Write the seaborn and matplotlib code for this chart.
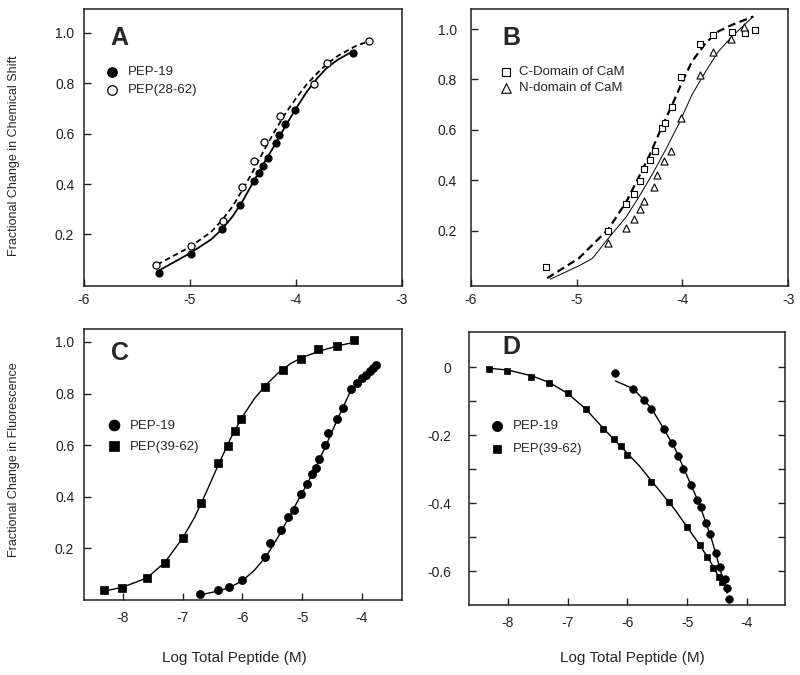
import matplotlib
matplotlib.use("Agg")
import matplotlib.pyplot as plt
import seaborn as sns

sns.set_style("white")
plt.rcParams['font.family'] = ['Liberation Sans', 'DejaVu Sans']
plt.rcParams['axes.unicode_minus'] = False

# --- A: chemical shift titration ---
a_pep19_x = [-5.29, -4.99, -4.70, -4.53, -4.40, -4.35, -4.31, -4.26, -4.19, -4.16, -4.10, -4.01, -3.46]
a_pep19_y = [0.047, 0.124, 0.221, 0.317, 0.412, 0.443, 0.473, 0.505, 0.562, 0.596, 0.638, 0.695, 0.920]
a_pep28_x = [-5.32, -4.99, -4.69, -4.51, -4.40, -4.30, -4.15, -3.83, -3.71, -3.31]
a_pep28_y = [0.077, 0.155, 0.252, 0.388, 0.490, 0.568, 0.671, 0.798, 0.882, 0.969]
a_fit19_x = [-5.30, -5.0, -4.8, -4.7, -4.6, -4.5, -4.4, -4.3, -4.2, -4.1, -4.0, -3.9, -3.8, -3.7, -3.6, -3.45]
a_fit19_y = [0.055, 0.125, 0.18, 0.22, 0.27, 0.335, 0.41, 0.485, 0.555, 0.63, 0.70, 0.765, 0.82, 0.865, 0.895, 0.93]
a_fit28_x = [-5.31, -5.0, -4.8, -4.7, -4.6, -4.5, -4.4, -4.3, -4.2, -4.1, -4.0, -3.9, -3.8, -3.7, -3.6, -3.45, -3.30]
a_fit28_y = [0.08, 0.15, 0.21, 0.255, 0.31, 0.38, 0.455, 0.535, 0.61, 0.68, 0.74, 0.795, 0.84, 0.88, 0.91, 0.945, 0.97]

# --- B: C- and N-domain of CaM ---
b_cdom_x = [-5.29, -4.70, -4.53, -4.46, -4.40, -4.36, -4.31, -4.26, -4.19, -4.16, -4.10, -4.01, -3.83, -3.71, -3.53, -3.41, -3.31]
b_cdom_y = [0.057, 0.200, 0.306, 0.346, 0.397, 0.444, 0.481, 0.518, 0.607, 0.627, 0.690, 0.809, 0.941, 0.976, 0.988, 0.985, 0.997]
b_ndom_x = [-4.70, -4.53, -4.46, -4.40, -4.36, -4.27, -4.24, -4.17, -4.11, -4.01, -3.83, -3.71, -3.54, -3.42]
b_ndom_y = [0.150, 0.212, 0.246, 0.287, 0.318, 0.375, 0.419, 0.478, 0.518, 0.647, 0.816, 0.909, 0.962, 1.007]
b_fitc_x = [-5.28, -4.98, -4.70, -4.53, -4.41, -4.31, -4.22, -4.09, -4.00, -3.91, -3.78, -3.66, -3.53, -3.33]
b_fitc_y = [0.011, 0.09, 0.206, 0.315, 0.415, 0.50, 0.587, 0.706, 0.792, 0.871, 0.945, 0.991, 1.017, 1.05]
b_fitn_x = [-5.25, -4.98, -4.85, -4.70, -4.53, -4.41, -4.28, -4.16, -4.03, -3.91, -3.78, -3.66, -3.53, -3.33]
b_fitn_y = [0.007, 0.06, 0.09, 0.17, 0.255, 0.335, 0.427, 0.52, 0.627, 0.739, 0.832, 0.911, 0.971, 1.05]

# --- C: fluorescence ---
c_pep19_x = [-6.71, -6.40, -6.23, -6.00, -5.62, -5.53, -5.36, -5.24, -5.13, -5.02, -4.92, -4.84, -4.77,
             -4.72, -4.62, -4.56, -4.42, -4.32, -4.18, -4.08, -4.00, -3.93, -3.87, -3.81, -3.76]
c_pep19_y = [0.023, 0.040, 0.052, 0.079, 0.166, 0.219, 0.272, 0.320, 0.348, 0.409, 0.451, 0.487, 0.512,
             0.545, 0.602, 0.646, 0.700, 0.744, 0.819, 0.842, 0.859, 0.873, 0.886, 0.899, 0.909]
c_pep39_x = [-8.31, -8.01, -7.60, -7.29, -7.00, -6.69, -6.40, -6.24, -6.12, -6.02, -5.62, -5.32, -5.02, -4.73, -4.42, -4.13]
c_pep39_y = [0.040, 0.045, 0.086, 0.143, 0.240, 0.375, 0.529, 0.597, 0.656, 0.703, 0.827, 0.891, 0.933, 0.972, 0.984, 1.006]
c_fit39_x = [-8.3, -8.0, -7.6, -7.3, -7.0, -6.8, -6.6, -6.4, -6.2, -6.0, -5.8, -5.6, -5.4, -5.2, -5.0, -4.7, -4.4, -4.1]
c_fit39_y = [0.035, 0.05, 0.085, 0.145, 0.24, 0.32, 0.42, 0.525, 0.625, 0.71, 0.78, 0.835, 0.88, 0.915, 0.94, 0.965, 0.985, 1.0]
c_fit19_x = [-6.7, -6.4, -6.2, -6.0, -5.8, -5.6, -5.4, -5.2, -5.0, -4.8, -4.6, -4.4, -4.2, -4.0, -3.8, -3.75]
c_fit19_y = [0.02, 0.035, 0.05, 0.075, 0.115, 0.17, 0.245, 0.33, 0.415, 0.50, 0.60, 0.705, 0.805, 0.86, 0.90, 0.91]

# --- D: fluorescence (second probe) ---
d_pep19_x = [-6.20, -5.90, -5.72, -5.61, -5.38, -5.26, -5.15, -5.06, -4.93, -4.83, -4.76, -4.69, -4.62,
             -4.52, -4.45, -4.37, -4.33, -4.29]
d_pep19_y = [-0.018, -0.063, -0.097, -0.124, -0.183, -0.222, -0.260, -0.298, -0.347, -0.391, -0.412, -0.457, -0.491,
             -0.548, -0.589, -0.623, -0.650, -0.682]
d_pep39_x = [-8.31, -8.01, -7.62, -7.31, -7.00, -6.70, -6.41, -6.23, -6.11, -6.01, -5.60, -5.31, -5.00, -4.79,
             -4.66, -4.56, -4.47, -4.41]
d_pep39_y = [-0.005, -0.010, -0.028, -0.045, -0.076, -0.124, -0.181, -0.212, -0.233, -0.258, -0.339, -0.397, -0.470, -0.524,
             -0.559, -0.590, -0.618, -0.632]
d_fit39_x = [-8.3, -8.0, -7.6, -7.3, -7.0, -6.7, -6.4, -6.1, -5.8, -5.5, -5.2, -5.0, -4.8, -4.6, -4.4]
d_fit39_y = [-0.003, -0.008, -0.025, -0.045, -0.077, -0.122, -0.18, -0.235, -0.29, -0.355, -0.42, -0.47, -0.52, -0.575, -0.64]
d_fit19_x = [-6.2, -5.9, -5.6, -5.4, -5.2, -5.0, -4.8, -4.6, -4.5, -4.4, -4.33]
d_fit19_y = [-0.04, -0.063, -0.12, -0.178, -0.24, -0.32, -0.40, -0.50, -0.56, -0.625, -0.665]

top_xticks = [-6, -5, -4, -3]
bot_xticks = [-8, -7, -6, -5, -4]
shift_yticks = [0.2, 0.4, 0.6, 0.8, 1.0]
shift_ylabels = ["0.2", "0.4", "0.6", "0.8", "1.0"]
d_yticks = [0, -0.1, -0.2, -0.3, -0.4, -0.5, -0.6]
d_ylabels = ["0", "", "-0.2", "", "-0.4", "", "-0.6"]

fig = plt.figure(figsize=(8, 6.75), dpi=100)
axA = fig.add_axes([0.105, 0.5763, 0.3975, 0.4104])
axB = fig.add_axes([0.5888, 0.5763, 0.3963, 0.4104])
axC = fig.add_axes([0.105, 0.1111, 0.3975, 0.4015])
axD = fig.add_axes([0.5863, 0.1037, 0.395, 0.4049])


def style_axes(ax, xlim, ylim, xticks, yticks, ylabels, xpad, ypad, right=False):
    ax.set_xlim(xlim)
    ax.set_ylim(ylim)
    ax.set_xticks(xticks, labels=[f"{t:g}" for t in xticks])
    ax.set_yticks(yticks, labels=ylabels)
    ax.tick_params(direction='in', length=5, width=1, labelsize=10, colors='#222',
                   left=True, bottom=True, right=right)
    ax.tick_params(axis='x', pad=xpad)
    ax.tick_params(axis='y', pad=ypad)
    for s in ax.spines.values():
        s.set_linewidth(1.1)
        s.set_color('#222')
    ax.set_xlabel('')
    ax.set_ylabel('')


def add_legend(ax, x, y, spacing, textpad):
    ax.legend(loc='upper left', bbox_to_anchor=(x, y), frameon=False, fontsize=9.5,
              handlelength=1.0, handletextpad=textpad, labelspacing=spacing,
              borderpad=0, borderaxespad=0, markerscale=1.35)


# Panel A
sns.lineplot(x=a_fit19_x, y=a_fit19_y, ax=axA, color='black', lw=1.3, sort=False, estimator=None, legend=False)
sns.lineplot(x=a_fit28_x, y=a_fit28_y, ax=axA, color='black', lw=1.3, sort=False, estimator=None, legend=False,
             linestyle=(0, (3, 2)))
sns.scatterplot(x=a_pep19_x, y=a_pep19_y, ax=axA, marker='o', s=26, color='black', edgecolor='black',
                linewidth=0.8, label='PEP-19', zorder=3)
sns.scatterplot(x=a_pep28_x, y=a_pep28_y, ax=axA, marker='o', s=26, color='white', edgecolor='black',
                linewidth=0.9, label='PEP(28-62)', zorder=3)
style_axes(axA, (-6, -3), (-0.005, 1.095), top_xticks, shift_yticks, shift_ylabels, 5, 7)
add_legend(axA, 0.066, 0.794, 0.45, 0.75)
axA.text(0.084, 0.937, 'A', transform=axA.transAxes, fontsize=18, fontweight='bold', va='top', ha='left')

# Panel B
sns.lineplot(x=b_fitn_x, y=b_fitn_y, ax=axB, color='black', lw=0.7, sort=False, estimator=None, legend=False)
sns.lineplot(x=b_fitc_x, y=b_fitc_y, ax=axB, color='black', lw=1.6, sort=False, estimator=None, legend=False,
             linestyle=(0, (3.5, 2)))
sns.scatterplot(x=b_cdom_x, y=b_cdom_y, ax=axB, marker='s', s=22, color='white', edgecolor='black',
                linewidth=0.8, label='C-Domain of CaM', zorder=3)
sns.scatterplot(x=b_ndom_x, y=b_ndom_y, ax=axB, marker='^', s=26, color='white', edgecolor='black',
                linewidth=0.8, label='N-domain of CaM', zorder=3)
style_axes(axB, (-6, -3), (-0.02, 1.08), top_xticks, shift_yticks, shift_ylabels, 5, 10)
add_legend(axB, 0.091, 0.794, 0.28, 0.45)
axB.text(0.1, 0.937, 'B', transform=axB.transAxes, fontsize=18, fontweight='bold', va='top', ha='left')

# Panel C
sns.lineplot(x=c_fit39_x, y=c_fit39_y, ax=axC, color='black', lw=1.0, sort=False, estimator=None, legend=False)
sns.lineplot(x=c_fit19_x, y=c_fit19_y, ax=axC, color='black', lw=1.0, sort=False, estimator=None, legend=False)
sns.scatterplot(x=c_pep19_x, y=c_pep19_y, ax=axC, marker='o', s=34, color='black', edgecolor='black',
                linewidth=0.5, label='PEP-19', zorder=3)
sns.scatterplot(x=c_pep39_x, y=c_pep39_y, ax=axC, marker='s', s=30, color='black', edgecolor='black',
                linewidth=0.5, label='PEP(39-62)', zorder=3)
style_axes(axC, (-8.65, -3.33), (0.0, 1.05), bot_xticks, shift_yticks, shift_ylabels, 8, 7)
add_legend(axC, 0.075, 0.666, 0.67, 0.7)
axC.text(0.084, 0.957, 'C', transform=axC.transAxes, fontsize=18, fontweight='bold', va='top', ha='left')

# Panel D
sns.lineplot(x=d_fit39_x, y=d_fit39_y, ax=axD, color='black', lw=1.0, sort=False, estimator=None, legend=False)
sns.lineplot(x=d_fit19_x, y=d_fit19_y, ax=axD, color='black', lw=1.0, sort=False, estimator=None, legend=False)
sns.scatterplot(x=d_pep19_x, y=d_pep19_y, ax=axD, marker='o', s=30, color='black', edgecolor='black',
                linewidth=0.5, label='PEP-19', zorder=3)
sns.scatterplot(x=d_pep39_x, y=d_pep39_y, ax=axD, marker='s', s=18, color='black', edgecolor='black',
                linewidth=0.5, label='PEP(39-62)', zorder=3)
style_axes(axD, (-8.65, -3.36), (-0.70, 0.105), bot_xticks, d_yticks, d_ylabels, 8, 13, right=True)
add_legend(axD, 0.069, 0.677, 0.8, 0.68)
axD.text(0.107, 0.987, 'D', transform=axD.transAxes, fontsize=18, fontweight='bold', va='top', ha='left')

# shared axis titles
fig.text(0.0175, 1 - 156 / 675, 'Fractional Change in Chemical Shift', rotation=90,
         ha='center', va='center', fontsize=9)
fig.text(0.0175, 1 - 460 / 675, 'Fractional Change in Fluorescence', rotation=90,
         ha='center', va='center', fontsize=9)
fig.text(234 / 800, 1 - 658 / 675, 'Log Total Peptide (M)', ha='center', va='center', fontsize=11)
fig.text(632 / 800, 1 - 658 / 675, 'Log Total Peptide (M)', ha='center', va='center', fontsize=11)

fig.savefig("out.png", dpi=100)
